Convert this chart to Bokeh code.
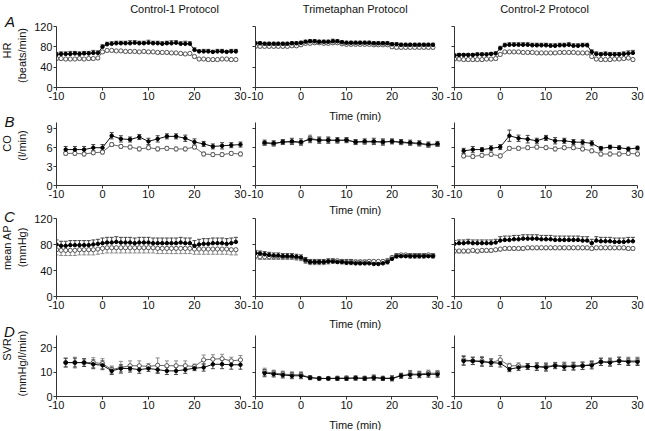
from bokeh.plotting import figure
from bokeh.layouts import row, column
from bokeh.models import (Range1d, FixedTicker, ColumnDataSource, Whisker,
                          TeeHead, Label, CustomJSTickFormatter)
from bokeh.embed import file_html
from bokeh.resources import INLINE

FONT = "Liberation Sans"

# ---------------- data ----------------
protocols = ["Control-1 Protocol", "Trimetaphan Protocol", "Control-2 Protocol"]
row_letters = ["A", "B", "C", "D"]
ylabel_main = ["HR", "CO", "mean AP", "SVR"]
ylabel_unit = ["(beats/min)", "(l/min)", "(mmHg)", "(mmHg/l/min)"]
x_label = "Time (min)"
x_ticks = [-10, 0, 10, 20, 30]
y_ticks = [[0, 40, 80, 120], [0, 3, 6, 9], [0, 40, 80, 120], [0, 10, 20]]
y_max = [120, 10, 120, 25]

t_1min = [-10, -9, -8, -7, -6, -5, -4, -3, -2, -1, 0, 1, 2, 3, 4, 5, 6, 7, 8, 9,
          10, 11, 12, 13, 14, 15, 16, 17, 18, 19, 20, 21, 22, 23, 24, 25, 26, 27, 28, 29]
t_2min = [-8, -6, -4, -2, 0, 2, 4, 6, 8, 10, 12, 14, 16, 18, 20, 22, 24, 26, 28, 30]

# HR (beats/min)
hr_c1_f = [65, 66, 66, 66, 67, 66, 67, 67, 68, 68, 80, 85, 86, 87, 87, 87, 87, 88, 87, 87,
           88, 87, 87, 86, 87, 87, 88, 86, 86, 86, 74, 71, 71, 71, 70, 71, 71, 70, 71, 71]
hr_c1_f_err = [4, 4, 4, 5, 4, 4, 4, 4, 5, 4, 4, 4, 4, 4, 4, 4, 5, 4, 4, 4,
               5, 4, 4, 4, 4, 5, 4, 4, 5, 4, 4, 3, 4, 4, 3, 4, 4, 3, 4, 4]
hr_c1_o = [57, 57, 56, 56, 56, 57, 56, 57, 57, 58, 70, 73, 73, 72, 72, 71, 71, 71, 70, 71,
           70, 70, 69, 69, 69, 68, 68, 67, 66, 67, 61, 56, 56, 55, 55, 55, 56, 56, 55, 55]
hr_c1_o_err = [3, 3, 3, 3, 2, 3, 3, 3, 3, 3, 3, 3, 3, 3, 3, 3, 3, 3, 3, 3,
               3, 3, 3, 3, 3, 3, 3, 3, 3, 3, 3, 3, 3, 3, 3, 3, 3, 3, 3, 3]
hr_tm_f = [87, 87, 86, 86, 86, 86, 86, 86, 87, 87, 88, 90, 91, 91, 90, 90, 90, 91, 91, 89,
           88, 88, 88, 88, 88, 88, 87, 87, 87, 87, 85, 85, 84, 84, 84, 84, 84, 84, 84, 84]
hr_tm_f_err = [3, 3, 3, 3, 3, 3, 3, 3, 3, 3, 3, 3, 3, 3, 3, 3, 3, 4, 3, 3,
               3, 3, 3, 3, 3, 3, 3, 3, 3, 3, 3, 3, 3, 3, 3, 3, 3, 3, 3, 3]
hr_tm_o = [81, 81, 81, 81, 81, 81, 81, 81, 82, 82, 84, 87, 87, 88, 88, 87, 87, 88, 88, 86,
           85, 85, 85, 85, 85, 85, 84, 84, 84, 84, 80, 79, 79, 79, 79, 79, 79, 79, 79, 79]
hr_tm_o_err = [3, 3, 3, 3, 3, 3, 3, 3, 3, 3, 3, 3, 3, 3, 3, 3, 3, 3, 3, 3,
               3, 3, 3, 3, 3, 3, 3, 3, 3, 3, 3, 3, 3, 3, 3, 3, 3, 3, 3, 3]
hr_c2_f = [63, 64, 64, 64, 64, 65, 65, 65, 66, 67, 77, 83, 84, 84, 84, 84, 84, 83, 83, 83,
           83, 82, 82, 83, 83, 84, 82, 82, 83, 83, 70, 66, 65, 66, 65, 65, 65, 66, 67, 68]
hr_c2_f_err = [3, 3, 3, 3, 3, 3, 3, 3, 3, 3, 4, 4, 4, 4, 4, 4, 4, 4, 4, 4,
               4, 4, 4, 4, 4, 4, 4, 4, 4, 4, 4, 4, 4, 4, 4, 4, 4, 4, 5, 5]
hr_c2_o = [56, 56, 55, 55, 55, 55, 55, 56, 56, 57, 65, 70, 70, 70, 70, 69, 69, 69, 68, 68,
           68, 68, 68, 69, 69, 69, 69, 68, 68, 68, 61, 56, 55, 55, 55, 56, 56, 57, 58, 55]
hr_c2_o_err = [3, 3, 3, 3, 3, 3, 3, 3, 3, 3, 3, 3, 3, 3, 3, 3, 3, 3, 3, 3,
               3, 3, 3, 3, 3, 3, 3, 3, 3, 3, 3, 3, 3, 3, 3, 3, 3, 3, 3, 3]

# CO (l/min)
co_c1_f = [5.7, 5.7, 5.7, 6.0, 6.0, 7.9, 7.4, 7.3, 7.7, 7.0, 7.4, 7.8, 7.8, 7.5, 6.9, 6.6, 6.2, 6.3, 6.4, 6.5]
co_c1_f_err = [0.5, 0.5, 0.5, 0.5, 0.5, 0.5, 0.5, 0.4, 0.4, 0.5, 0.5, 0.4, 0.4, 0.5, 0.5, 0.4, 0.4, 0.5, 0.4, 0.4]
co_c1_o = [5.1, 5.1, 5.0, 5.2, 5.3, 6.5, 6.2, 6.1, 5.8, 6.0, 5.8, 5.9, 5.8, 5.8, 6.1, 5.0, 4.9, 4.9, 5.1, 5.0]
co_c1_o_err = [0.3, 0.3, 0.3, 0.3, 0.3, 0.3, 0.3, 0.3, 0.3, 0.3, 0.3, 0.3, 0.3, 0.3, 0.3, 0.3, 0.3, 0.3, 0.3, 0.3]
co_tm_f = [6.8, 6.7, 6.9, 7.0, 6.9, 7.3, 7.2, 7.2, 7.2, 7.2, 6.9, 7.0, 7.0, 6.9, 7.0, 6.9, 6.8, 6.7, 6.5, 6.6]
co_tm_f_err = [0.4, 0.4, 0.4, 0.5, 0.5, 0.5, 0.5, 0.5, 0.4, 0.4, 0.4, 0.4, 0.5, 0.5, 0.4, 0.4, 0.4, 0.4, 0.4, 0.4]
co_tm_o = [6.7, 6.6, 6.9, 6.9, 6.8, 7.5, 7.2, 7.2, 7.1, 7.2, 6.9, 6.9, 6.9, 6.9, 7.0, 6.8, 6.7, 6.6, 6.4, 6.5]
co_tm_o_err = [0.3, 0.3, 0.3, 0.3, 0.3, 0.5, 0.4, 0.4, 0.4, 0.3, 0.3, 0.3, 0.3, 0.4, 0.3, 0.3, 0.3, 0.3, 0.3, 0.3]
co_c2_f = [5.5, 5.7, 5.7, 5.9, 6.1, 7.9, 7.5, 7.35, 7.1, 7.55, 7.1, 7.1, 6.9, 6.85, 6.7, 5.9, 6.1, 6.0, 5.8, 5.95]
co_c2_f_err = [0.4, 0.5, 0.3, 0.4, 0.4, 0.9, 0.5, 0.6, 0.4, 0.4, 0.5, 0.4, 0.4, 0.4, 0.4, 0.3, 0.3, 0.3, 0.3, 0.3]
co_c2_o = [4.7, 4.6, 4.8, 4.95, 4.7, 5.9, 5.9, 6.0, 6.1, 6.0, 5.8, 6.0, 6.0, 5.8, 5.5, 5.0, 5.0, 5.0, 5.1, 5.0]
co_c2_o_err = [0.3, 0.3, 0.3, 0.3, 0.3, 0.3, 0.3, 0.3, 0.3, 0.3, 0.3, 0.3, 0.3, 0.3, 0.3, 0.3, 0.3, 0.3, 0.3, 0.3]

# mean AP (mmHg)
ap_c1_f = [80, 78, 78, 79, 79, 79, 79, 79, 80, 81, 82, 83, 83, 84, 83, 83, 83, 82, 83, 83,
           83, 82, 82, 82, 82, 82, 82, 83, 82, 82, 78, 80, 81, 81, 82, 82, 82, 81, 82, 84]
ap_c1_f_err = [7, 7, 7, 7, 7, 7, 7, 7, 7, 7, 8, 8, 8, 8, 8, 8, 8, 8, 8, 8,
               8, 8, 8, 8, 8, 8, 8, 8, 8, 8, 8, 8, 8, 8, 8, 8, 8, 8, 8, 7]
ap_c1_o = [72, 71, 71, 71, 71, 72, 72, 72, 72, 73, 74, 75, 75, 75, 75, 75, 75, 75, 75, 75,
           75, 75, 74, 74, 74, 74, 74, 74, 74, 74, 73, 73, 73, 73, 73, 73, 73, 73, 72, 72]
ap_c1_o_err = [8, 8, 8, 8, 8, 8, 8, 8, 8, 8, 8, 8, 8, 8, 8, 8, 8, 8, 8, 8,
               8, 8, 8, 8, 8, 8, 8, 8, 8, 8, 8, 8, 8, 8, 8, 8, 8, 8, 8, 8]
ap_tm_f = [67, 66, 65, 64, 63, 63, 62, 62, 62, 61, 60, 56, 53, 53, 53, 53, 54, 54, 53, 53,
           52, 52, 51, 51, 51, 51, 50, 50, 51, 53, 58, 62, 62, 62, 62, 62, 62, 62, 62, 62]
ap_tm_f_err = [4, 4, 4, 4, 4, 4, 4, 4, 4, 4, 4, 4, 4, 4, 4, 4, 4, 4, 4, 4,
               5, 5, 5, 5, 5, 5, 5, 5, 5, 5, 4, 4, 4, 4, 4, 4, 4, 4, 4, 4]
ap_tm_o = [62, 61, 61, 61, 61, 61, 61, 61, 61, 60, 59, 55, 53, 53, 53, 53, 54, 55, 55, 54,
           53, 53, 53, 53, 53, 54, 54, 54, 54, 54, 60, 63, 64, 64, 63, 63, 63, 63, 64, 63]
ap_tm_o_err = [4, 4, 4, 4, 4, 4, 4, 4, 4, 4, 4, 4, 4, 4, 4, 4, 4, 4, 4, 4,
               4, 4, 4, 4, 4, 4, 4, 4, 4, 4, 4, 4, 4, 4, 4, 4, 4, 4, 4, 4]
ap_c2_f = [81, 82, 82, 83, 82, 82, 82, 82, 82, 83, 86, 87, 87, 88, 88, 89, 89, 89, 89, 88,
           88, 88, 87, 87, 87, 87, 87, 87, 86, 86, 82, 86, 85, 85, 85, 84, 84, 84, 85, 85]
ap_c2_f_err = [5, 5, 5, 5, 5, 5, 5, 5, 5, 5, 6, 6, 6, 6, 6, 6, 6, 6, 6, 6,
               6, 6, 6, 6, 6, 6, 6, 6, 6, 6, 6, 6, 6, 6, 6, 6, 6, 6, 6, 6]
ap_c2_o = [70, 70, 70, 70, 71, 70, 71, 71, 71, 72, 73, 74, 74, 74, 74, 74, 75, 75, 75, 75,
           75, 75, 75, 75, 75, 75, 75, 75, 75, 75, 74, 75, 75, 75, 75, 75, 75, 75, 74, 74]
ap_c2_o_err = [3, 3, 3, 3, 3, 3, 3, 3, 3, 3, 3, 3, 3, 3, 3, 3, 3, 3, 3, 3,
               3, 3, 3, 3, 3, 3, 3, 3, 3, 3, 3, 3, 3, 3, 3, 3, 3, 3, 3, 3]

# SVR (mmHg/l/min)
svr_c1_f = [13.9, 13.9, 13.9, 13.2, 12.8, 10.5, 11.5, 11.5, 11.0, 11.5, 11.0, 10.5, 10.5, 11.0, 11.6, 11.9, 13.2, 13.2, 13.0, 13.0]
svr_c1_f_err = [1.8, 1.8, 1.6, 1.8, 1.8, 1.5, 1.5, 1.5, 1.5, 1.2, 1.5, 1.5, 1.5, 1.5, 1.0, 1.5, 1.8, 1.8, 1.8, 1.8]
svr_c1_o = [13.9, 13.9, 13.9, 13.9, 13.5, 11.0, 11.9, 12.6, 12.6, 12.3, 12.8, 12.6, 12.6, 12.6, 12.3, 15.0, 15.3, 15.5, 14.6, 15.0]
svr_c1_o_err = [1.8, 2.2, 1.5, 2.0, 2.0, 1.5, 2.5, 2.0, 2.0, 1.2, 3.0, 2.0, 2.0, 2.0, 1.0, 2.0, 1.8, 1.8, 1.5, 1.8]
svr_tm_f = [9.6, 9.2, 8.8, 8.5, 8.5, 7.7, 7.4, 7.4, 7.4, 7.4, 7.6, 7.4, 7.7, 7.4, 7.4, 8.5, 8.9, 8.9, 9.1, 9.1]
svr_tm_f_err = [1.5, 1.2, 1.2, 1.2, 1.2, 0.8, 0.6, 0.6, 0.8, 0.8, 0.8, 0.8, 1.0, 0.8, 1.0, 1.0, 1.5, 1.2, 1.2, 1.2]
svr_tm_o = [10.1, 9.6, 9.2, 8.9, 8.9, 7.8, 7.4, 7.4, 7.5, 7.6, 7.5, 7.5, 7.8, 7.5, 7.5, 8.5, 9.2, 9.2, 9.6, 9.5]
svr_tm_o_err = [1.5, 1.2, 1.2, 1.2, 1.2, 0.8, 0.6, 0.6, 0.8, 0.8, 0.8, 0.8, 1.0, 0.8, 1.0, 1.0, 1.5, 1.2, 1.2, 1.2]
svr_c2_f = [14.6, 14.6, 14.2, 13.9, 13.6, 11.2, 11.9, 12.3, 12.2, 11.9, 12.6, 12.2, 12.3, 12.6, 12.8, 14.2, 13.9, 14.6, 14.2, 14.2]
svr_c2_f_err = [1.8, 1.5, 1.8, 1.5, 1.5, 1.0, 1.2, 1.2, 1.5, 1.5, 1.2, 1.5, 1.5, 1.5, 1.5, 1.5, 1.5, 1.5, 1.5, 1.5]
svr_c2_o = [15.0, 14.6, 14.6, 13.9, 15.0, 12.6, 12.6, 12.3, 12.3, 12.3, 12.8, 12.6, 12.6, 12.6, 13.2, 14.2, 14.3, 14.6, 14.6, 14.6]
svr_c2_o_err = [1.8, 1.5, 1.8, 1.5, 1.8, 1.0, 1.2, 1.2, 1.5, 1.5, 1.2, 1.5, 1.5, 1.5, 1.5, 1.5, 1.5, 1.5, 1.5, 1.5]

panel_table = [
    [(t_1min, hr_c1_f, hr_c1_f_err, hr_c1_o, hr_c1_o_err),
     (t_1min, hr_tm_f, hr_tm_f_err, hr_tm_o, hr_tm_o_err),
     (t_1min, hr_c2_f, hr_c2_f_err, hr_c2_o, hr_c2_o_err)],
    [(t_2min, co_c1_f, co_c1_f_err, co_c1_o, co_c1_o_err),
     (t_2min, co_tm_f, co_tm_f_err, co_tm_o, co_tm_o_err),
     (t_2min, co_c2_f, co_c2_f_err, co_c2_o, co_c2_o_err)],
    [(t_1min, ap_c1_f, ap_c1_f_err, ap_c1_o, ap_c1_o_err),
     (t_1min, ap_tm_f, ap_tm_f_err, ap_tm_o, ap_tm_o_err),
     (t_1min, ap_c2_f, ap_c2_f_err, ap_c2_o, ap_c2_o_err)],
    [(t_2min, svr_c1_f, svr_c1_f_err, svr_c1_o, svr_c1_o_err),
     (t_2min, svr_tm_f, svr_tm_f_err, svr_tm_o, svr_tm_o_err),
     (t_2min, svr_c2_f, svr_c2_f_err, svr_c2_o, svr_c2_o_err)],
]
one_sided = [True, False, True, False]

# ---------------- layout (pixels) ----------------
LEFT_STRIP_W = 30
TOTAL_H = 430
TITLE_H = 16
X_END = 30.66
col_frame_w = [187, 185, 186]
col_left = [26, 8, 10]
col_right = [4, 4, 4]
row_frame_h = [61, 63, 78, 61]
# borders for the side columns (1 and 3)
side_top = [10, 17, 15, 21]
side_bottom = [18, 18, 18, 18]
# borders for the middle column, which has "Time (min)" strips between rows
mid_top = [10, 0, 0, 0]
mid_bottom = [18, 18, 18, 18]
time_strip_h = [17, 15, 21, 16]
time_strip_y = [10, 6.5, 9, 10]


def col_width(c):
    return col_left[c] + col_frame_w[c] + col_right[c]


def strip_fig(w, h):
    s = figure(frame_width=w, frame_height=h, x_range=Range1d(0, w),
               y_range=Range1d(h, 0), min_border_left=0, min_border_right=0,
               min_border_top=0, min_border_bottom=0,
               x_axis_location=None, y_axis_location=None,
               output_backend="svg", toolbar_location=None, tools="")
    s.title.visible = False
    s.outline_line_color = None
    s.xgrid.visible = False
    s.ygrid.visible = False
    s.background_fill_color = "#ffffff"
    s.border_fill_color = "#ffffff"
    return s


def add_text(p, text, x, y, size="11px", style="normal", angle=0):
    p.add_layout(Label(x=x, y=y, text=text, text_font=FONT,
                       text_font_size=size, text_font_style=style,
                       text_color="#111111", text_align="center",
                       text_baseline="middle", angle=angle, angle_units="deg"))


def add_series(p, x, y, e, filled, sym):
    if sym:
        lo = [a - b for a, b in zip(y, e)]
        up = [a + b for a, b in zip(y, e)]
    elif filled:
        lo = list(y)
        up = [a + b for a, b in zip(y, e)]
    else:
        lo = [a - b for a, b in zip(y, e)]
        up = list(y)
    src = ColumnDataSource(dict(x=x, y=y, lo=lo, up=up))
    lcol = "#111111" if filled else "#666666"
    ecol = "#444444" if filled else "#8a8a8a"
    head_up = TeeHead(size=4, line_color=ecol, line_width=1) if (sym or filled) else None
    head_lo = TeeHead(size=4, line_color=ecol, line_width=1) if (sym or not filled) else None
    p.add_layout(Whisker(source=src, base="x", upper="up", lower="lo",
                         dimension="height", line_color=ecol, line_width=1,
                         upper_head=head_up, lower_head=head_lo, level="underlay"))
    p.line("x", "y", source=src, line_color=lcol, line_width=1)
    if filled:
        p.scatter("x", "y", source=src, marker="circle", size=3.5,
                  fill_color="#000000", line_color="#000000")
    else:
        p.scatter("x", "y", source=src, marker="circle", size=4.2,
                  fill_color="#ffffff", line_color="#555555", line_width=1)


def panel(r, c, top, bottom):
    p = figure(frame_width=col_frame_w[c], frame_height=row_frame_h[r],
               x_range=Range1d(-10, X_END), y_range=Range1d(0, y_max[r]),
               min_border_left=col_left[c], min_border_right=col_right[c],
               min_border_top=top, min_border_bottom=bottom,
               output_backend="svg", toolbar_location=None, tools="")
    p.title.visible = False
    p.outline_line_color = None
    p.xgrid.visible = False
    p.ygrid.visible = False
    p.background_fill_color = "#ffffff"
    p.border_fill_color = "#ffffff"
    for ax in (p.xaxis[0], p.yaxis[0]):
        ax.axis_line_color = "#333333"
        ax.major_tick_line_color = "#333333"
        ax.major_tick_out = 3
        ax.major_tick_in = 0
        ax.minor_tick_out = 0
        ax.minor_tick_in = 0
        ax.major_label_text_font = FONT
        ax.major_label_text_font_size = "11px"
        ax.major_label_text_color = "#111111"
        ax.major_label_standoff = 1
    p.xaxis.ticker = FixedTicker(ticks=x_ticks)
    p.xaxis.bounds = (-10, 30)
    p.xaxis.major_label_overrides = {-10: "-10"}
    p.yaxis.ticker = FixedTicker(ticks=y_ticks[r])
    if c > 0:
        p.yaxis.formatter = CustomJSTickFormatter(code="return ''")
    x, yf, ef, yo, eo = panel_table[r][c]
    sym = not one_sided[r]
    add_series(p, x, yo, eo, False, sym)
    add_series(p, x, yf, ef, True, sym)
    return p


# left strip: row letters and y-axis titles
left = strip_fig(LEFT_STRIP_W, TOTAL_H)
letter_pos = [(9.5, 21), (9, 121), (9, 216), (9, 331)]
main_pos = [(6.5, 50), (6.5, 143), (6.5, 247), (6.5, 349)]
unit_pos = [(21, 55), (21, 145), (21, 247), (21, 363)]
for r in range(4):
    add_text(left, row_letters[r], *letter_pos[r], size="15px", style="italic")
    add_text(left, ylabel_main[r], *main_pos[r], angle=90)
    add_text(left, ylabel_unit[r], *unit_pos[r], angle=90)

title_x = [118, 99.7, 90]

columns = [left]
for c in range(3):
    w = col_width(c)
    t = strip_fig(w, TITLE_H)
    add_text(t, protocols[c], title_x[c], 8)
    kids = [t]
    for r in range(4):
        if c == 1:
            kids.append(panel(r, c, mid_top[r], mid_bottom[r]))
            s = strip_fig(w, time_strip_h[r])
            add_text(s, x_label, 99.7, time_strip_y[r])
            kids.append(s)
        else:
            kids.append(panel(r, c, side_top[r], side_bottom[r]))
    columns.append(column(*kids))

layout = row(*columns)

open("out.html", "w").write(file_html(layout, INLINE))
